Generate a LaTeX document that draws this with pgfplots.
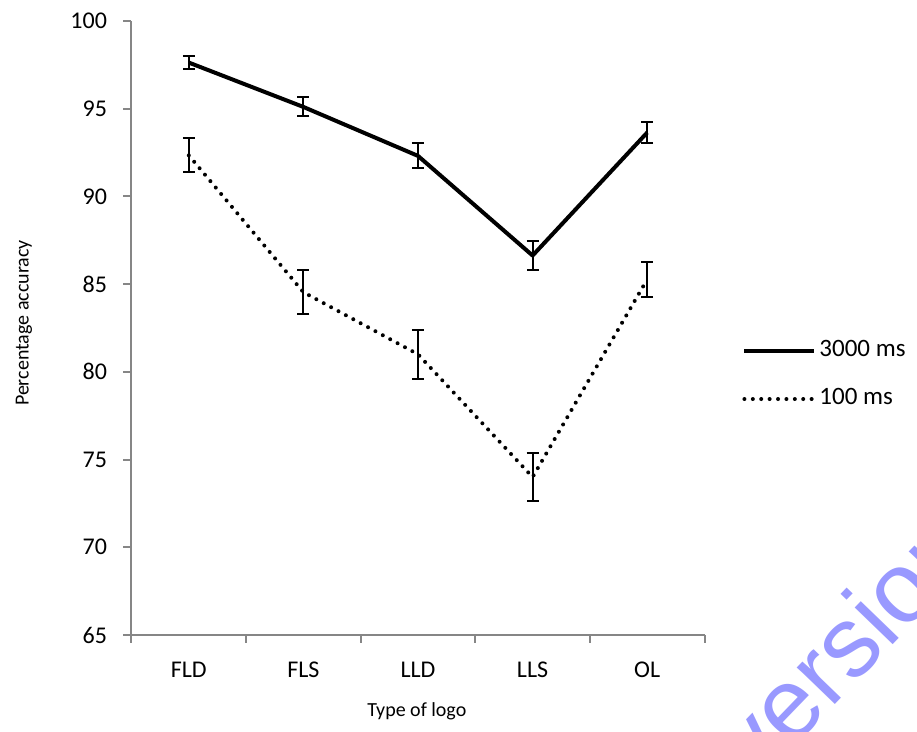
\documentclass[border=0pt]{standalone}
\usepackage{pgfplots}
\pgfplotsset{compat=1.18}
\usepackage{fontspec}
\setmainfont{Carlito}
\newfontfamily\wmfont{Liberation Sans}
\definecolor{axisgray}{RGB}{134,134,134}
\definecolor{wm}{RGB}{153,153,255}
\begin{document}
\begin{tikzpicture}[x=1pt,y=1pt]
\useasboundingbox (0,0) rectangle (458.5,366);
\node[rotate=46, anchor=base west, text=wm, font=\wmfont\fontsize{50}{54}\selectfont, inner sep=0pt] at (378.3,-27) {version};
\begin{axis}[
  at={(65.75pt,48.5pt)}, anchor=south west,
  scale only axis, width=286.5pt, height=307pt,
  xmin=-0.5, xmax=4.5, ymin=65, ymax=100,
  axis x line*=bottom, axis y line*=left,
  xtick={0,1,2,3,4}, xticklabels={FLD,FLS,LLD,LLS,OL},
  minor xtick={-0.5,0.5,1.5,2.5,3.5,4.5},
  ytick={65,70,...,100}, minor ytick={65,70,...,100},
  tick align=outside,
  major tick length=0pt, minor tick length=4pt,
  axis line style={axisgray, line width=1pt},
  every tick/.style={axisgray, line width=1pt},
  minor tick style={axisgray, line width=1pt},
  /pgf/number format/assume math mode=true,
  tick label style={font=\fontsize{12}{14}\selectfont, text=black},
  xticklabel style={anchor=base, yshift=-21.5pt},
  yticklabel style={anchor=east, xshift=-8.75pt},
  xlabel={Type of logo}, ylabel={Percentage accuracy},
  label style={font=\fontsize{11}{13}\selectfont},
  every axis x label/.style={at={(axis description cs:0.498,0)}, anchor=base, yshift=-41pt},
  every axis y label/.style={at={(axis description cs:-0.1876,0.508)}, rotate=90, anchor=center},
  legend style={at={(axis description cs:1.0655,0.4234)}, anchor=west, draw=none, fill=none, inner sep=0pt,
    font=\fontsize{12.5}{15}\selectfont, row sep=13.5pt,
    nodes={inner xsep=1.5pt, inner ysep=0pt, text height=8pt, text depth=2.5pt}},
  legend cell align=left,
  legend image code/.code={\draw[#1] (0pt,0pt) -- (35pt,0pt);},
  clip=false,
]
\addplot[black, line width=2pt, line join=round,
  error bars/.cd, y dir=both, y explicit,
  error bar style={line width=1pt, solid},
  error mark options={rotate=90, mark size=3pt, line width=1pt, solid}]
  coordinates {(0,97.63) +- (0,0.37) (1,95.10) +- (0,0.54) (2,92.31) +- (0,0.71) (3,86.63) +- (0,0.81) (4,93.64) +- (0,0.58)};
\addlegendentry{3000 ms}
\addplot[black, line width=2pt, line cap=round, dash pattern=on 0pt off 4.2pt,
  error bars/.cd, y dir=both, y explicit,
  error bar style={line width=1pt, solid, line cap=butt},
  error mark options={rotate=90, mark size=3pt, line width=1pt, solid, line cap=butt}]
  coordinates {(0,92.34) +- (0,0.97) (1,84.54) +- (0,1.27) (2,81.00) +- (0,1.40) (3,74.00) +- (0,1.38) (4,85.27) +- (0,1.01)};
\addlegendentry{100 ms}
\end{axis}
\end{tikzpicture}
\end{document}
